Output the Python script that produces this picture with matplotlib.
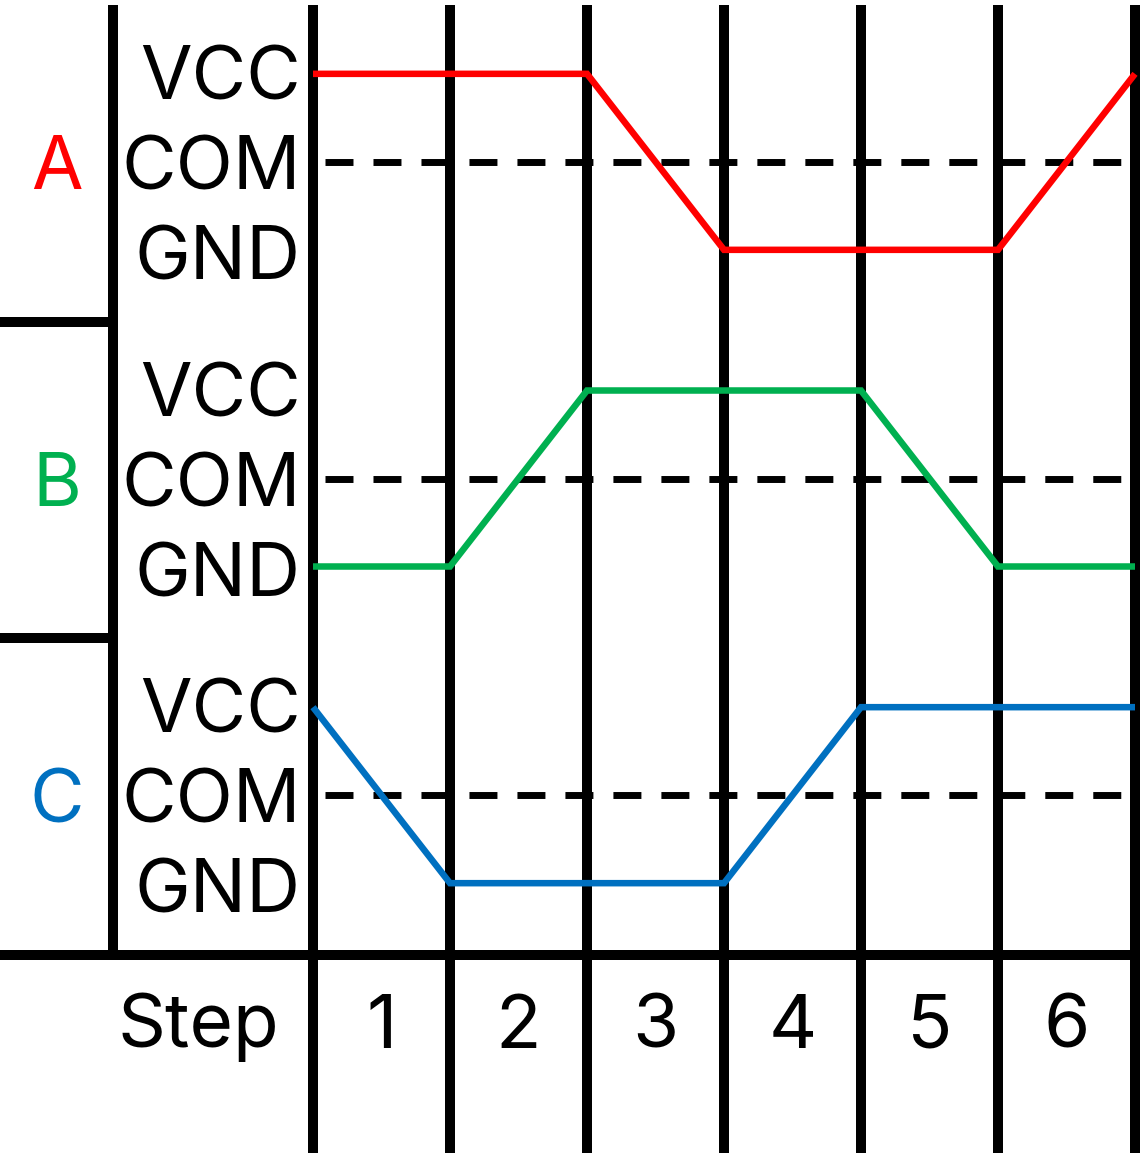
import matplotlib
matplotlib.use("Agg")
import matplotlib.pyplot as plt

# ---- data ----
phases = ["A", "B", "C"]
phase_colors = ["#FF0000", "#00B050", "#0070C0"]
level_names = ["VCC", "COM", "GND"]
steps = ["1", "2", "3", "4", "5", "6"]
step_label = "Step"
# signal level at each step boundary t = 0..6  (+1 = VCC, -1 = GND)
signal_A = [1, 1, 1, -1, -1, -1, 1]
signal_B = [-1, -1, 1, 1, 1, -1, -1]
signal_C = [1, -1, -1, -1, 1, 1, 1]
signals = [signal_A, signal_B, signal_C]

# ---- layout (data units: x = step time, y = phase band index from top) ----
W, H, DPI = 1148, 1160, 100
X0_PX, XSTEP_PX = 313, 137
Y0_PX, YBAND_PX = 5, 316.67
LINE_OFF = 88 / YBAND_PX      # VCC/GND offset of signal lines from COM
TEXT_OFF = 90 / YBAND_PX      # VCC/GND label offset from COM
CAP_HALF = 27.5 / YBAND_PX    # half cap height, used for baseline placement
LEFT_X = (113 - X0_PX) / XSTEP_PX
LABEL_RIGHT_X = (301 - X0_PX) / XSTEP_PX
PHASE_X = (57 - X0_PX) / XSTEP_PX
STEP_TXT_X = (198 - X0_PX) / XSTEP_PX
BOTTOM_Y = 3
ROW_Y = (1020 - Y0_PX) / YBAND_PX

fig = plt.figure(figsize=(W / DPI, H / DPI), dpi=DPI)
ax = fig.add_axes([0, 0, 1, 1])
ax.set_xlim(-X0_PX / XSTEP_PX, (W - X0_PX) / XSTEP_PX)
ax.set_ylim((H - Y0_PX) / YBAND_PX, -Y0_PX / YBAND_PX)
ax.axis("off")

FONT = ["Inter", "DejaVu Sans"]
FS = 53.8
LW = 7.2

n = len(steps)
# vertical step grid lines
for t in range(n + 1):
    ax.plot([t, t], [0, (1153 - Y0_PX) / YBAND_PX], color="black", lw=LW,
            solid_capstyle="butt", zorder=2)
# left vertical line
ax.plot([LEFT_X, LEFT_X], [0, BOTTOM_Y], color="black", lw=LW,
        solid_capstyle="butt", zorder=2)
# bottom horizontal line
xmin = -X0_PX / XSTEP_PX
ax.plot([xmin, (1140 - X0_PX) / XSTEP_PX], [BOTTOM_Y, BOTTOM_Y], color="black",
        lw=LW, solid_capstyle="butt", zorder=2)
# band separators
for i in range(1, len(phases)):
    ax.plot([xmin, LEFT_X], [i, i], color="black", lw=LW,
            solid_capstyle="butt", zorder=2)

for i, (ph, col, sig) in enumerate(zip(phases, phase_colors, signals)):
    com = i + 0.5 - 1.5 / YBAND_PX
    # COM dashed line
    ax.plot([(325 - X0_PX) / XSTEP_PX, (1123 - X0_PX) / XSTEP_PX], [com, com],
            color="black", lw=5.0, dashes=(4.03, 2.88), dash_capstyle="butt",
            zorder=1)
    # signal
    ys = [com - v * LINE_OFF for v in sig]
    ax.plot(range(len(sig)), ys, color=col, lw=4.7, solid_capstyle="butt",
            solid_joinstyle="miter", zorder=3)
    # level labels
    for name, off in zip(level_names, [-TEXT_OFF, 0, TEXT_OFF]):
        ax.text(LABEL_RIGHT_X, com + off + CAP_HALF, name, ha="right",
                va="baseline", fontsize=FS, family=FONT, color="black")
    # phase label
    ax.text(PHASE_X, com + CAP_HALF, ph, ha="center", va="baseline",
            fontsize=FS, family=FONT, color=col)

# step row
ax.text(STEP_TXT_X, ROW_Y + CAP_HALF, step_label, ha="center", va="baseline",
        fontsize=FS, family=FONT, color="black")
for k, s in enumerate(steps):
    ax.text(k + 0.5, ROW_Y + CAP_HALF, s, ha="center", va="baseline",
            fontsize=FS, family=FONT, color="black")

fig.savefig("out.png", dpi=DPI, facecolor="white")
